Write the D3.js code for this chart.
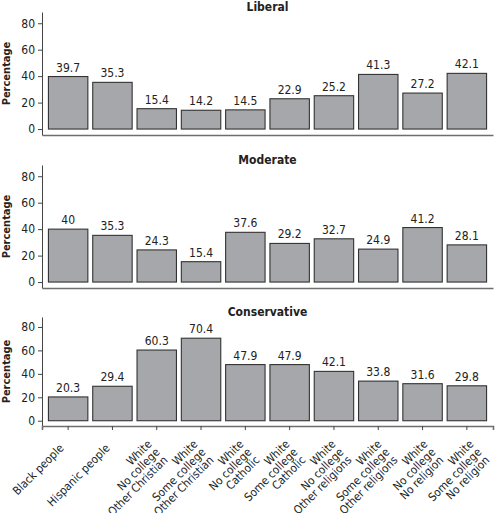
<!DOCTYPE html>
<html>
<head>
<meta charset="utf-8">
<script src="https://cdn.jsdelivr.net/npm/d3@7"></script>
<style>
  body { margin: 0; background: #fff; }
  svg text { font-family: "DejaVu Sans Condensed", "DejaVu Sans", sans-serif; font-stretch: condensed; fill: #222; }
  .title, .ylabel { font-weight: bold; }
</style>
</head>
<body>
<div id="chart"></div>
<script>
const categories = [
  'Black people', 'Hispanic people',
  'White\nNo college\nOther Christian', 'White\nSome college\nOther Christian',
  'White\nNo college\nCatholic', 'White\nSome college\nCatholic',
  'White\nNo college\nOther religions', 'White\nSome college\nOther religions',
  'White\nNo college\nNo religion', 'White\nSome college\nNo religion'
];
const panelNames = ['Liberal', 'Moderate', 'Conservative'];
const liberal = [39.7, 35.3, 15.4, 14.2, 14.5, 22.9, 25.2, 41.3, 27.2, 42.1];
const moderate = [40, 35.3, 24.3, 15.4, 37.6, 29.2, 32.7, 24.9, 41.2, 28.1];
const conservative = [20.3, 29.4, 60.3, 70.4, 47.9, 47.9, 42.1, 33.8, 31.6, 29.8];
const yTicks = [0, 20, 40, 60, 80];

const width = 495;
const height = 513;
const left = 42;
const right = 493;

const svg = d3.select('#chart').append('svg')
  .attr('width', width)
  .attr('height', height);

const x = d3.scaleBand()
  .domain(categories)
  .range([left, right])
  .paddingInner(0.11)
  .paddingOuter(0.145);

// the rotated labels drift a little wider than the ticks in the original
const xLabel = x.copy().range([left - 8.5, right + 8.5]);

// top and bottom of each panel's plot area
const panels = [
  { name: panelNames[0], values: liberal, top: 12, bottom: 135 },
  { name: panelNames[1], values: moderate, top: 165, bottom: 288 },
  { name: panelNames[2], values: conservative, top: 317, bottom: 426 }
];

panels.forEach((p, pi) => {
  const y = d3.scaleLinear()
    .domain([-4.5, 88.5])
    .range([p.bottom, p.top]);

  const g = svg.append('g');

  // bars
  g.selectAll('.bar')
    .data(p.values)
    .enter()
    .append('rect')
    .attr('class', 'bar')
    .attr('x', (d, i) => x(categories[i]))
    .attr('width', x.bandwidth())
    .attr('y', d => y(d))
    .attr('height', d => y(0) - y(d))
    .attr('fill', '#a6a7aa')
    .attr('stroke', '#333')
    .attr('stroke-width', 1.1);

  // value labels
  g.selectAll('.val')
    .data(p.values)
    .enter()
    .append('text')
    .attr('class', 'val')
    .attr('x', (d, i) => x(categories[i]) + x.bandwidth() / 2)
    .attr('y', d => y(d) - 5)
    .attr('text-anchor', 'middle')
    .style('font-size', '12px')
    .text(d => d);

  // y axis
  const yAxis = d3.axisLeft(y).tickValues(yTicks).tickSize(4).tickSizeOuter(0).tickPadding(3);
  const gy = svg.append('g')
    .attr('transform', `translate(${left},0)`)
    .call(yAxis);
  gy.select('.domain').attr('stroke', '#444').attr('stroke-width', 1);
  gy.selectAll('.tick line').attr('stroke', '#444');
  gy.selectAll('.tick text')
    .style('font-size', '12px')
    .style('font-family', null)
    .attr('fill', '#222');

  // x axis
  const last = pi === panels.length - 1;
  const xAxis = d3.axisBottom(x).tickSizeOuter(0).tickSize(last ? 4 : 0).tickFormat('');
  const gx = svg.append('g')
    .attr('transform', `translate(0,${p.bottom})`)
    .call(xAxis);
  gx.select('.domain').attr('stroke', '#6e6e6e').attr('stroke-width', 1.6);
  gx.selectAll('.tick line').attr('stroke', '#444');

  if (last) {
    const lh = 11.3;
    const labels = svg.append('g').selectAll('.xlab')
      .data(categories)
      .enter()
      .append('text')
      .attr('class', 'xlab')
      .attr('text-anchor', 'end')
      .attr('dominant-baseline', 'central')
      .style('font-size', '11.5px')
      .attr('transform', d => `translate(${xLabel(d) + xLabel.bandwidth() / 2 + 1},${p.bottom + 20}) rotate(-45)`);
    labels.each(function(d) {
      const lines = d.split('\n');
      const n = lines.length;
      d3.select(this).selectAll('tspan')
        .data(lines)
        .enter()
        .append('tspan')
        .attr('x', 0)
        .attr('y', (l, i) => (i - (n - 1) * 0.25) * lh)
        .text(l => l);
    });
  }

  // panel title
  svg.append('text')
    .attr('class', 'title')
    .attr('x', (left + right) / 2)
    .attr('y', p.top - 1.5)
    .attr('text-anchor', 'middle')
    .style('font-size', '12px')
    .text(p.name);

  // y label
  svg.append('text')
    .attr('class', 'ylabel')
    .attr('transform', `translate(10,${(p.top + p.bottom) / 2}) rotate(-90)`)
    .attr('text-anchor', 'middle')
    .style('font-size', '11px')
    .text('Percentage');
});
</script>
</body>
</html>
